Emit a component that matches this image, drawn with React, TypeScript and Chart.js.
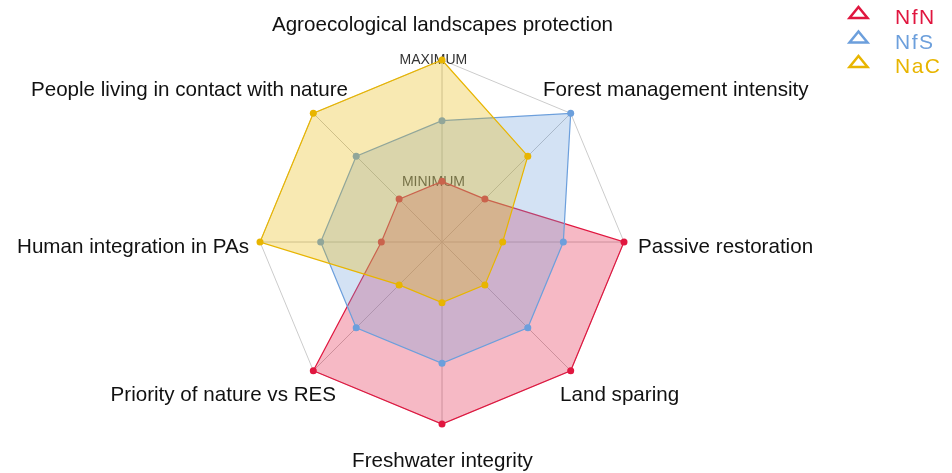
import React, { useEffect, useRef } from "react";
import { Chart, registerables } from "chart.js";

Chart.register(...registerables);

const AXIS_LABELS = [
  "Agroecological landscapes protection",
  "Forest management intensity",
  "Passive restoration",
  "Land sparing",
  "Freshwater integrity",
  "Priority of nature vs RES",
  "Human integration in PAs",
  "People living in contact with nature",
];

const NFN = [1, 1, 3, 3, 3, 3, 1, 1];
const NFS = [2, 3, 2, 2, 2, 2, 2, 2];
const NAC = [3, 2, 1, 1, 1, 1, 3, 3];

const SERIES_NAMES = ["NfN", "NfS", "NaC"];

const SCALE_MIN = 0;
const SCALE_MAX = 3;
const LEVEL_LABEL_VALUES = [1, 3];
const LEVEL_LABEL_TEXTS = ["MINIMUM", "MAXIMUM"];

// label layout, in units of the radar radius relative to its centre
const LABEL_LAYOUT: { dx: number; dy: number; align: CanvasTextAlign }[] = [
  { dx: 0, dy: -1.159, align: "center" },
  { dx: 0.552, dy: -0.802, align: "left" },
  { dx: 1.074, dy: 0.06, align: "left" },
  { dx: 0.646, dy: 0.874, align: "left" },
  { dx: 0, dy: 1.236, align: "center" },
  { dx: -0.585, dy: 0.874, align: "right" },
  { dx: -1.063, dy: 0.06, align: "right" },
  { dx: -0.519, dy: -0.802, align: "right" },
];

const COLORS = ["#E0163F", "#6C9FDC", "#E8B500"];
const FILLS = ["rgba(226,22,62,0.3)", "rgba(108,159,220,0.3)", "rgba(232,181,0,0.3)"];

const customDraw = {
  id: "customDraw",
  beforeDatasetsDraw(chart: any) {
    const scale = chart.scales.r;
    const ctx = chart.ctx;
    ctx.save();
    ctx.font = "14px 'Liberation Sans', Arial, sans-serif";
    ctx.fillStyle = "#333333";
    ctx.textAlign = "center";
    ctx.textBaseline = "middle";
    LEVEL_LABEL_VALUES.forEach((v, i) => {
      const p = scale.getPointPositionForValue(0, v);
      ctx.fillText(LEVEL_LABEL_TEXTS[i], p.x - 0.047 * scale.drawingArea, p.y + 0.5);
    });
    ctx.restore();
  },
  afterDraw(chart: any) {
    const scale = chart.scales.r;
    const ctx = chart.ctx;
    const R = scale.drawingArea;
    const cx = scale.xCenter + 0.5;
    const cy = scale.yCenter;
    ctx.save();
    ctx.font = "20.6px 'Liberation Sans', Arial, sans-serif";
    ctx.fillStyle = "#111111";
    ctx.textBaseline = "alphabetic";
    AXIS_LABELS.forEach((lab, i) => {
      const l = LABEL_LAYOUT[i];
      ctx.textAlign = l.align;
      ctx.fillText(lab, cx + l.dx * R, cy + l.dy * R);
    });
    // legend
    const W = chart.width;
    SERIES_NAMES.forEach((name, i) => {
      const top = 7 + i * 24.5;
      const xm = W - 93.5;
      ctx.beginPath();
      ctx.moveTo(xm, top);
      ctx.lineTo(xm + 9, top + 11);
      ctx.lineTo(xm - 9, top + 11);
      ctx.closePath();
      ctx.lineWidth = 2.5;
      ctx.lineJoin = "miter";
      ctx.strokeStyle = COLORS[i];
      ctx.stroke();
      ctx.font = "21px 'Liberation Sans', Arial, sans-serif";
      (ctx as any).letterSpacing = "1.5px";
      ctx.fillStyle = COLORS[i];
      ctx.textAlign = "left";
      ctx.fillText(name, W - 57, top + 17);
      (ctx as any).letterSpacing = "0px";
    });
    ctx.restore();
  },
};

export default function App() {
  const ref = useRef<HTMLCanvasElement | null>(null);
  useEffect(() => {
    if (!ref.current) return;
    const series = [NFN, NFS, NAC];
    const chart = new Chart(ref.current, {
      type: "radar",
      data: {
        labels: AXIS_LABELS,
        datasets: series.map((d, i) => ({
          label: SERIES_NAMES[i],
          data: d,
          borderColor: COLORS[i],
          backgroundColor: FILLS[i],
          borderWidth: 1.2,
          fill: true,
          pointRadius: 3.5,
          pointBorderWidth: 0,
          pointBackgroundColor: COLORS[i],
          order: 3 - i,
          clip: false as any,
        })),
      },
      options: {
        animation: false,
        responsive: true,
        maintainAspectRatio: false,
        layout: { padding: { top: 60, bottom: 49, left: 0, right: 67 } },
        plugins: { legend: { display: false }, tooltip: { enabled: false } },
        elements: { line: { tension: 0 } },
        scales: {
          r: {
            min: SCALE_MIN,
            max: SCALE_MAX,
            ticks: { display: false, stepSize: 1 },
            pointLabels: { display: false },
            grid: {
              color: (c: any) => (c.tick && c.tick.value === SCALE_MAX ? "#cccccc" : "rgba(0,0,0,0)"),
              lineWidth: 1,
            },
            angleLines: { color: "#c4c4c4", lineWidth: 1 },
          },
        },
      },
      plugins: [customDraw],
    });
    return () => chart.destroy();
  }, []);
  return (
    <div style={{ position: "absolute", left: 0, top: 0, width: 952, height: 473 }}>
      <canvas ref={ref} />
    </div>
  );
}
